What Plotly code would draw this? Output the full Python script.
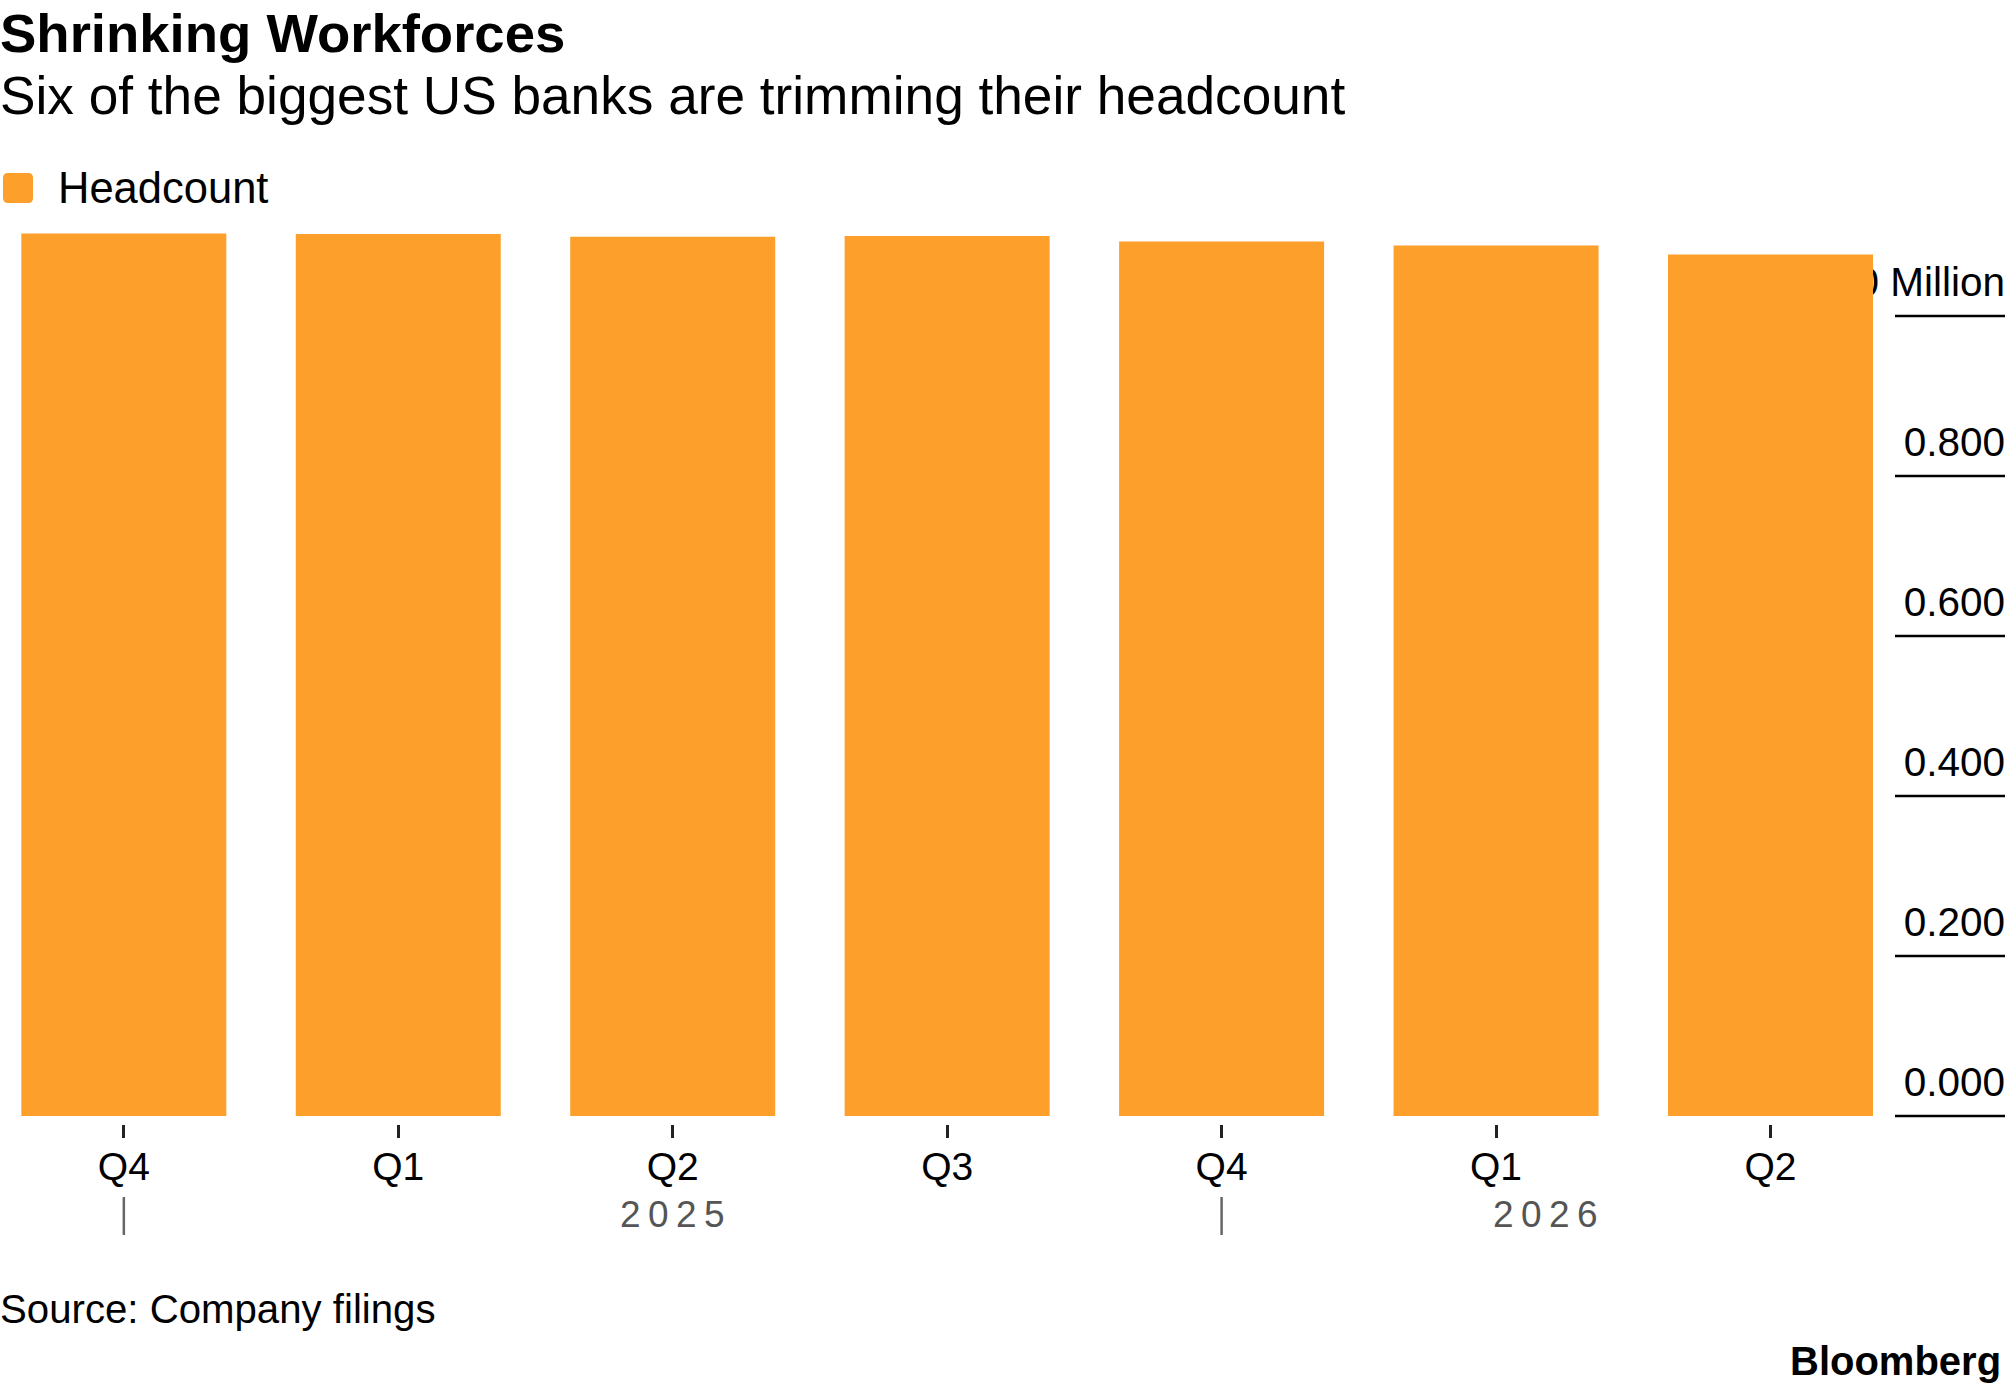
import plotly.graph_objects as go

# ---- data ----
quarters = ["Q4", "Q1", "Q2", "Q3", "Q4", "Q1", "Q2"]
headcount_millions = [1.103, 1.1025, 1.099, 1.100, 1.093, 1.088, 1.077]
year_labels = ["2025", "2026"]
year_label_pos = [2.0, 5.18]
year_separators = [0, 4]
ytick_vals = [0.0, 0.2, 0.4, 0.6, 0.8, 1.0]
ytick_text = ["0.000", "0.200", "0.400", "0.600", "0.800", "1.000 Million"]

W, H = 2005, 1392
PLOT_TOP, ZERO_PX, PLOT_BOT = 220, 1116, 1124
PX_PER_UNIT = 800
FONT = "Liberation Sans"
ORANGE = "#FDA02B"


def py(p):
    return (PLOT_BOT - p) / (PLOT_BOT - PLOT_TOP)


def px(p):
    return p / W


x_idx = list(range(len(quarters)))

fig = go.Figure()
fig.add_trace(go.Bar(
    x=x_idx, y=headcount_millions, width=0.747,
    marker=dict(color=ORANGE, line=dict(width=0)),
    name="Headcount", showlegend=False, hoverinfo="skip",
))

fig.update_layout(
    width=W, height=H,
    margin=dict(l=0, r=0, t=PLOT_TOP, b=H - PLOT_BOT),
    paper_bgcolor="white", plot_bgcolor="white",
    font=dict(family=FONT, color="black"),
    xaxis=dict(
        range=[-0.4512, 6.8545], tickvals=x_idx, ticktext=quarters,
        ticks="outside", ticklen=13, tickwidth=2.5, tickcolor="#222",
        ticklabelstandoff=-5,
        showgrid=False, zeroline=False, showline=False,
        tickfont=dict(size=39, color="black", family=FONT),
        fixedrange=True,
    ),
    yaxis=dict(
        range=[-(PLOT_BOT - ZERO_PX) / PX_PER_UNIT, (ZERO_PX - PLOT_TOP) / PX_PER_UNIT],
        side="right",
        tickvals=ytick_vals, ticktext=ytick_text,
        ticklabelposition="inside", layer="below traces",
        ticklabelshift=-34, ticklabelstandoff=-3, ticks="",
        showgrid=False, zeroline=False, showline=False,
        tickfont=dict(size=40.5, color="black", family=FONT),
        fixedrange=True,
    ),
)

shapes = []
# short right-side gridlines under the tick labels
for v in ytick_vals:
    shapes.append(dict(type="line", xref="paper", yref="y",
                       x0=px(1895), x1=1.0, y0=v, y1=v,
                       line=dict(color="black", width=2.5)))
# year separators
for s in year_separators:
    shapes.append(dict(type="line", xref="x", yref="paper",
                       x0=s, x1=s, y0=py(1197), y1=py(1235),
                       line=dict(color="#666", width=2.5)))
# legend swatch (rounded square)
x0, x1, y0, y1, r = 3, 33, 173, 203, 5
path = (f"M {px(x0 + r)},{py(y0)} L {px(x1 - r)},{py(y0)} Q {px(x1)},{py(y0)} {px(x1)},{py(y0 + r)} "
        f"L {px(x1)},{py(y1 - r)} Q {px(x1)},{py(y1)} {px(x1 - r)},{py(y1)} "
        f"L {px(x0 + r)},{py(y1)} Q {px(x0)},{py(y1)} {px(x0)},{py(y1 - r)} "
        f"L {px(x0)},{py(y0 + r)} Q {px(x0)},{py(y0)} {px(x0 + r)},{py(y0)} Z")
shapes.append(dict(type="path", xref="paper", yref="paper", path=path,
                   fillcolor=ORANGE, line=dict(width=0)))
fig.update_layout(shapes=shapes)

ann = []
ann.append(dict(text="<b>Shrinking Workforces</b>", xref="paper", yref="paper",
                x=0, y=py(33), xanchor="left", yanchor="middle", showarrow=False,
                xshift=-2, font=dict(size=54.5, family=FONT, color="black")))
ann.append(dict(text="Six of the biggest US banks are trimming their headcount", xref="paper", yref="paper",
                x=0, y=py(96), xanchor="left", yanchor="middle", showarrow=False,
                xshift=-2, font=dict(size=53.2, family=FONT, color="black")))
ann.append(dict(text="Headcount", xref="paper", yref="paper",
                x=px(56), y=py(188), xanchor="left", yanchor="middle", showarrow=False,
                font=dict(size=43.5, family=FONT, color="black")))
for lbl, pos in zip(year_labels, year_label_pos):
    ann.append(dict(text="\u2009".join(lbl), xref="x", yref="paper",
                    x=pos, y=py(1214), xanchor="center", yanchor="middle", showarrow=False,
                    font=dict(size=37, family=FONT, color="#555")))
ann.append(dict(text="Source: Company filings", xref="paper", yref="paper",
                x=0, y=py(1309), xanchor="left", yanchor="middle", showarrow=False,
                xshift=-2, font=dict(size=40.2, family=FONT, color="black")))
ann.append(dict(text="<b>Bloomberg</b>", xref="paper", yref="paper",
                x=1, y=py(1361), xanchor="right", yanchor="middle", showarrow=False,
                xshift=-2, font=dict(size=40, family=FONT, color="black")))
fig.update_layout(annotations=ann)

fig.write_html("out.html", config={"displayModeBar": False})
